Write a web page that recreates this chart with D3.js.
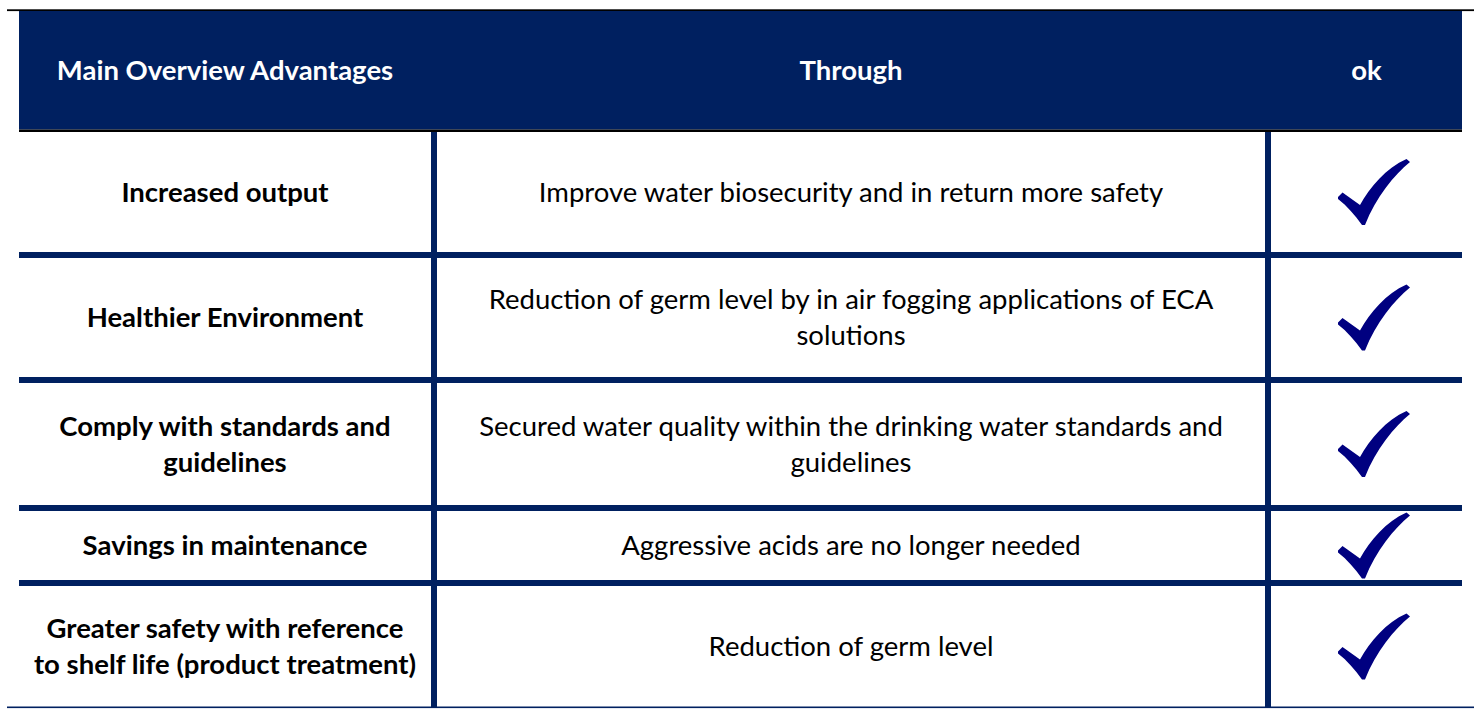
<!DOCTYPE html>
<html>
<head>
<meta charset="utf-8">
<script src="https://cdn.jsdelivr.net/npm/d3@7/dist/d3.min.js"></script>
<style>
  html, body { margin: 0; padding: 0; background: #ffffff; }
  svg { display: block; }
</style>
</head>
<body>
<svg id="chart" width="1474" height="709"></svg>
<script>
// ---- data ----
const headers = ["Main Overview Advantages", "Through", "ok"];
const advantages = [
  ["Increased output"],
  ["Healthier Environment"],
  ["Comply with standards and", "guidelines"],
  ["Savings in maintenance"],
  ["Greater safety with reference", "to shelf life (product treatment)"]
];
const through = [
  ["Improve water biosecurity and in return more safety"],
  ["Reduction of germ level by in air fogging applications of ECA", "solutions"],
  ["Secured water quality within the drinking water standards and", "guidelines"],
  ["Aggressive acids are no longer needed"],
  ["Reduction of germ level"]
];
const okFlags = [true, true, true, true, true];

// ---- layout (not data) ----
const W = 1474, H = 709;
const navy = "#002060";
const checkColor = "#000080";
const fontFamily = "Lato, 'Open Sans', sans-serif";
const fontSize = 27.5;
const lineGap = 36;
const baseOff = 9.7;
const tableLeft = 19, tableRight = 1462;
const colEdges = [19, 431, 1265, 1462];   // left edge of each column + right edge
const ruleW = 6;
const headerTop = 11, headerBottom = 129.5, headerRule = 2.5;
const rowHeights = [120, 119, 122, 69, 121];

const svg = d3.select("#chart");

const colX = d3.scaleOrdinal().domain([0, 1, 2]).range(colEdges.slice(0, 3));
const colStart = i => colX(i) + (i === 0 ? 0 : ruleW);
const colCenter = i => (colStart(i) + colEdges[i + 1]) / 2;

// row geometry
const bodyTop = headerBottom + headerRule;
const rowTops = [];
{
  let y = bodyTop;
  rowHeights.forEach((h, i) => { rowTops.push(y); y += h + (i < rowHeights.length - 1 ? ruleW : 0); });
}
const bodyBottom = rowTops[rowTops.length - 1] + rowHeights[rowHeights.length - 1];
const rowCenter = i => rowTops[i] + rowHeights[i] / 2;

// top thin black line
svg.append("rect").attr("x", 7).attr("y", 9.3).attr("width", W - 7).attr("height", 1.8).attr("fill", "#000");

// header band
svg.append("rect").attr("x", tableLeft).attr("y", headerTop)
  .attr("width", tableRight - tableLeft).attr("height", headerBottom - headerTop).attr("fill", navy);
svg.append("rect").attr("x", tableLeft).attr("y", headerBottom)
  .attr("width", tableRight - tableLeft).attr("height", headerRule).attr("fill", "#000");

svg.append("g").selectAll("text").data(headers).join("text")
  .attr("x", (d, i) => colCenter(i))
  .attr("y", (headerTop + headerBottom) / 2 + baseOff)
  .attr("text-anchor", "middle")
  .attr("font-family", fontFamily)
  .attr("font-size", fontSize)
  .attr("font-weight", "bold")
  .attr("fill", "#ffffff")
  .text(d => d);

// horizontal separators between rows
svg.append("g").selectAll("rect").data(rowHeights.slice(0, -1)).join("rect")
  .attr("x", tableLeft)
  .attr("y", (d, i) => rowTops[i] + rowHeights[i])
  .attr("width", tableRight - tableLeft)
  .attr("height", ruleW)
  .attr("fill", navy);

// bottom thin line
svg.append("rect").attr("x", 7).attr("y", bodyBottom - 0.5).attr("width", W - 7).attr("height", 1.6).attr("fill", navy);

// vertical separators
svg.append("g").selectAll("rect").data([1, 2]).join("rect")
  .attr("x", d => colX(d))
  .attr("y", bodyTop)
  .attr("width", ruleW)
  .attr("height", bodyBottom - bodyTop)
  .attr("fill", navy);

// cell text
function drawCells(data, col, weight) {
  const g = svg.append("g");
  data.forEach((lines, r) => {
    const n = lines.length;
    const first = rowCenter(r) - (n - 1) * lineGap / 2 + baseOff;
    g.append("text")
      .attr("text-anchor", "middle")
      .attr("font-family", fontFamily)
      .attr("font-size", fontSize)
      .attr("font-weight", weight)
      .attr("fill", "#000")
      .selectAll("tspan").data(lines).join("tspan")
      .attr("x", colCenter(col))
      .attr("y", (d, k) => first + k * lineGap)
      .text(d => d);
  });
}
drawCells(advantages, 0, "bold");
drawCells(through, 1, "normal");

// check marks (local box 72 x 66)
const checkPath = "M0,38 L4.5,33.5 L22,46 C32,28 48,9 68.5,0 L72,3 C56,16 38,38 27,66 L24,66 C17,56 9,47 0,40 Z";
svg.append("g").selectAll("path").data(okFlags).join("path")
  .filter(d => d)
  .attr("d", checkPath)
  .attr("fill", checkColor)
  .attr("transform", (d, i) => `translate(${colCenter(2) + 7.5 - 36},${rowCenter(i) - 33})`);
</script>
</body>
</html>
